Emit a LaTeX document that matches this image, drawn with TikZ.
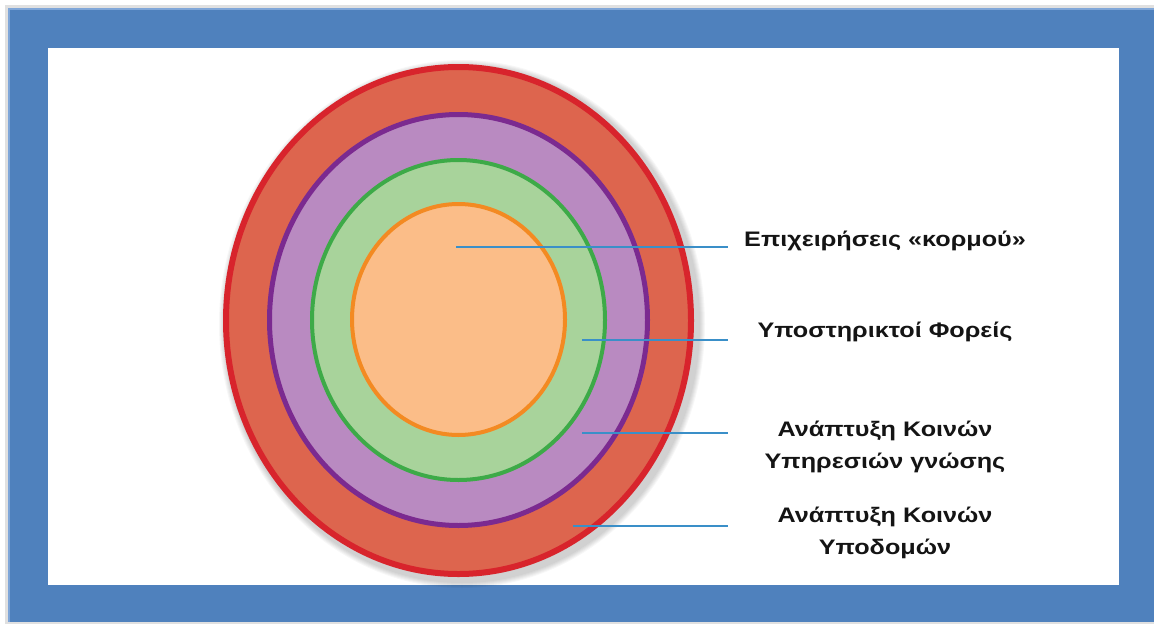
\documentclass[tikz,border=0pt]{standalone}
\usepackage{fontspec}
\usepackage{graphicx}
\setmainfont{Liberation Sans}
\definecolor{frameblue}{HTML}{4F81BD}
\definecolor{framelight}{HTML}{7FA6D8}
\definecolor{ringred}{HTML}{D8242C}
\definecolor{fillred}{HTML}{DD654E}
\definecolor{ringpurple}{HTML}{7B2A90}
\definecolor{fillpurple}{HTML}{B98AC1}
\definecolor{ringgreen}{HTML}{3DAA48}
\definecolor{fillgreen}{HTML}{A8D39B}
\definecolor{ringorange}{HTML}{F38A22}
\definecolor{fillorange}{HTML}{FBBD88}
\definecolor{leader}{HTML}{3A8FC8}
\definecolor{labeltext}{HTML}{141414}
% labels are set in a slightly widened bold sans
\newcommand{\widetext}[1]{\scalebox{1.2}[1]{#1}}
\tikzset{
  leaderline/.style={draw=leader, line width=2.6pt},
  lbl/.style={font=\bfseries\fontsize{21}{32}\selectfont, text=labeltext, align=center, inner sep=0pt},
}
\begin{document}
\begin{tikzpicture}[x=1pt,y=-1pt]
  % canvas and blue frame
  \fill[white] (0,0) rectangle (1154,624);
  \useasboundingbox (0,0) rectangle (1154,624);
  \fill[black!12] (5,5) rectangle (1154,624);
  \fill[frameblue] (8,8) rectangle (1154,622);
  \fill[framelight] (8,8) rectangle (1154,10);
  \fill[framelight] (8,8) rectangle (10,622);
  \fill[white] (48,48) rectangle (1119,585);

  % soft shadow behind the rings
  \foreach \s in {1,...,6}
    \fill[black, opacity=0.03] (462,324) ellipse [x radius={237pt+\s pt}, y radius={258pt+\s pt}];

  % concentric rings, outer to inner
  \draw[ringred, fill=fillred, line width=6pt] (458.5,320.5) ellipse [x radius=232.5pt, y radius=253.5pt];
  \draw[ringpurple, fill=fillpurple, line width=5pt] (458.5,320) ellipse [x radius=189pt, y radius=205.5pt];
  \draw[ringgreen, fill=fillgreen, line width=4pt] (458.5,320) ellipse [x radius=146.5pt, y radius=160pt];
  \draw[ringorange, fill=fillorange, line width=4pt] (458.5,319.5) ellipse [x radius=106.5pt, y radius=115.5pt];

  % leader line end points
  \coordinate (a1) at (456,247);
  \coordinate (b1) at (728,247);
  \coordinate (a2) at (582,340);
  \coordinate (b2) at (728,340);
  \coordinate (a3) at (582,433);
  \coordinate (b3) at (728,433);
  \coordinate (a4) at (573,526);
  \coordinate (b4) at (728,526);

  \draw[leaderline] (a1) -- (b1);
  \draw[leaderline] (a2) -- (b2);
  \draw[leaderline] (a3) -- (b3);
  \draw[leaderline] (a4) -- (b4);

  % labels
  \node[lbl] (t1) at (885,241) {\widetext{Επιχειρήσεις «κορμού»}};
  \node[lbl] (t2) at (885,332) {\widetext{Υποστηρικτοί Φορείς}};
  \node[lbl] (t3) at (885,446.5) {\widetext{Ανάπτυξη Κοινών}\\\widetext{Υπηρεσιών γνώσης}};
  \node[lbl] (t4) at (885,532.5) {\widetext{Ανάπτυξη Κοινών}\\\widetext{Υποδομών}};
\end{tikzpicture}
\end{document}
